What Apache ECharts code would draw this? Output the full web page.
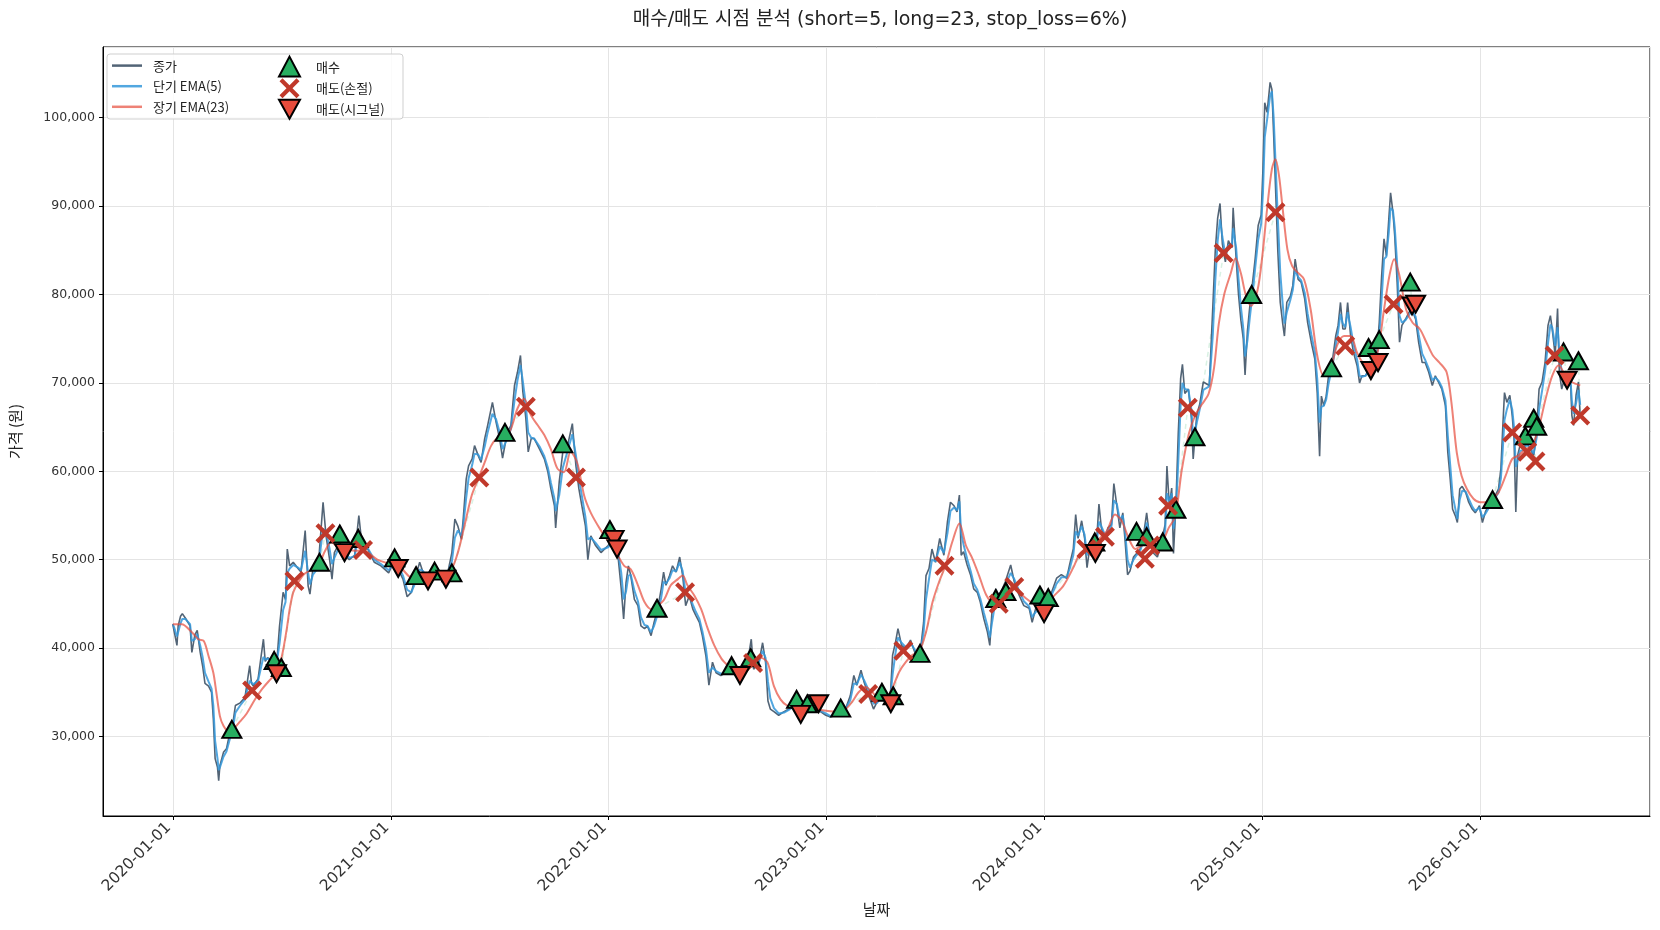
<!DOCTYPE html>
<html>
<head>
<meta charset="utf-8">
<script src="https://cdn.jsdelivr.net/npm/echarts@6/dist/echarts.min.js"></script>
<style>
  html, body { margin: 0; padding: 0; background: #fff; }
  #chart { width: 1660px; height: 930px; }
</style>
</head>
<body>
<div id="chart"></div>
<script>
// 종가 / 단기 EMA(5) - 같은 날짜 기준
const dates = [
  '2020-01-01','2020-01-03','2020-01-08','2020-01-10','2020-01-14','2020-01-17','2020-01-22','2020-01-30',
  '2020-02-02','2020-02-07','2020-02-11','2020-02-16','2020-02-20','2020-02-24',
  '2020-03-01','2020-03-06','2020-03-09','2020-03-12','2020-03-16','2020-03-18','2020-03-20','2020-03-26','2020-03-31',
  '2020-04-06','2020-04-11','2020-04-15','2020-04-23',
  '2020-05-01','2020-05-09','2020-05-12','2020-05-15','2020-05-23',
  '2020-06-01','2020-06-04','2020-06-08','2020-06-17','2020-06-23','2020-06-28',
  '2020-07-04','2020-07-08','2020-07-11','2020-07-15','2020-07-21','2020-07-29',
  '2020-08-03','2020-08-10','2020-08-15','2020-08-18','2020-08-23',
  '2020-09-01','2020-09-09','2020-09-14','2020-09-20','2020-09-24','2020-09-28',
  '2020-10-07','2020-10-15','2020-10-23',
  '2020-11-01','2020-11-08','2020-11-14','2020-11-23',
  '2020-12-04','2020-12-15','2020-12-28',
  '2021-01-07','2021-01-16','2021-01-21','2021-01-28',
  '2021-02-04','2021-02-10','2021-02-18','2021-02-24',
  '2021-03-04','2021-03-12','2021-03-21','2021-03-29',
  '2021-04-06','2021-04-13','2021-04-18','2021-04-23','2021-04-29',
  '2021-05-02','2021-05-07','2021-05-11','2021-05-17','2021-05-21','2021-05-27',
  '2021-06-01','2021-06-07','2021-06-12','2021-06-20','2021-06-26',
  '2021-07-02','2021-07-07','2021-07-15','2021-07-21','2021-07-27',
  '2021-08-01','2021-08-06','2021-08-10','2021-08-15','2021-08-19','2021-08-24','2021-08-29',
  '2021-09-07','2021-09-15','2021-09-21','2021-09-26',
  '2021-10-02','2021-10-04','2021-10-10','2021-10-16','2021-10-24',
  '2021-11-01','2021-11-07','2021-11-12','2021-11-18','2021-11-23','2021-11-27',
  '2021-12-02','2021-12-10','2021-12-19','2021-12-31',
  '2022-01-08','2022-01-16','2022-01-22','2022-01-26','2022-01-30',
  '2022-02-03','2022-02-07','2022-02-13','2022-02-19','2022-02-24',
  '2022-03-02','2022-03-07','2022-03-13','2022-03-18','2022-03-24','2022-03-30',
  '2022-04-03','2022-04-07','2022-04-13','2022-04-18','2022-04-24','2022-04-30',
  '2022-05-05','2022-05-10','2022-05-16','2022-05-22','2022-05-27',
  '2022-06-02','2022-06-07','2022-06-13','2022-06-18','2022-06-24','2022-06-30',
  '2022-07-08','2022-07-16','2022-07-25',
  '2022-08-02','2022-08-10','2022-08-21','2022-08-28',
  '2022-09-01','2022-09-10','2022-09-16','2022-09-21','2022-09-25','2022-09-29',
  '2022-10-05','2022-10-13','2022-10-22','2022-10-30',
  '2022-11-07','2022-11-18','2022-11-30',
  '2022-12-11','2022-12-22','2022-12-31',
  '2023-01-08','2023-01-16','2023-01-25',
  '2023-02-02','2023-02-10','2023-02-16','2023-02-21','2023-02-28',
  '2023-03-05','2023-03-13','2023-03-21','2023-03-27',
  '2023-04-01','2023-04-10','2023-04-18','2023-04-22','2023-04-27',
  '2023-05-01','2023-05-07','2023-05-14','2023-05-22','2023-05-31',
  '2023-06-08','2023-06-13','2023-06-17','2023-06-22','2023-06-27',
  '2023-07-03','2023-07-10','2023-07-17','2023-07-23','2023-07-28',
  '2023-08-03','2023-08-08','2023-08-12','2023-08-15','2023-08-19','2023-08-25','2023-08-31',
  '2023-09-05','2023-09-11','2023-09-16','2023-09-22','2023-09-28',
  '2023-10-02','2023-10-06','2023-10-12','2023-10-17','2023-10-23','2023-10-28',
  '2023-11-06','2023-11-12','2023-11-20','2023-11-28',
  '2023-12-07','2023-12-12','2023-12-18','2023-12-31',
  '2024-01-13','2024-01-22','2024-01-30',
  '2024-02-08','2024-02-13','2024-02-19','2024-02-23','2024-02-27',
  '2024-03-04','2024-03-09','2024-03-13','2024-03-18','2024-03-23','2024-03-29',
  '2024-04-02','2024-04-06','2024-04-12','2024-04-17','2024-04-23','2024-04-27',
  '2024-05-02','2024-05-07','2024-05-12','2024-05-16','2024-05-20','2024-05-24','2024-05-30',
  '2024-06-04','2024-06-10','2024-06-15','2024-06-21','2024-06-27',
  '2024-07-03','2024-07-09','2024-07-16','2024-07-22','2024-07-25','2024-07-29',
  '2024-08-02','2024-08-05','2024-08-09','2024-08-13','2024-08-17','2024-08-20','2024-08-24','2024-08-30',
  '2024-09-04','2024-09-07','2024-09-13','2024-09-18','2024-09-24',
  '2024-10-04','2024-10-10','2024-10-14','2024-10-18','2024-10-22','2024-10-26','2024-10-31',
  '2024-11-05','2024-11-11','2024-11-13','2024-11-18','2024-11-22','2024-11-26','2024-11-30',
  '2024-12-03','2024-12-07','2024-12-11','2024-12-16','2024-12-20','2024-12-25','2024-12-30',
  '2025-01-02','2025-01-05','2025-01-09','2025-01-14','2025-01-17','2025-01-20','2025-01-24','2025-01-27','2025-01-31',
  '2025-02-04','2025-02-07','2025-02-11','2025-02-17','2025-02-21','2025-02-25',
  '2025-03-02','2025-03-07','2025-03-13','2025-03-18','2025-03-24','2025-03-30',
  '2025-04-03','2025-04-07','2025-04-10','2025-04-14','2025-04-18','2025-04-22','2025-04-28',
  '2025-05-04','2025-05-08','2025-05-12','2025-05-16','2025-05-20','2025-05-24','2025-05-29',
  '2025-06-03','2025-06-09','2025-06-13','2025-06-17','2025-06-23','2025-06-28',
  '2025-07-04','2025-07-11','2025-07-16','2025-07-20','2025-07-24','2025-07-28',
  '2025-08-01','2025-08-04','2025-08-08','2025-08-11','2025-08-15','2025-08-19','2025-08-23','2025-08-29',
  '2025-09-04','2025-09-09','2025-09-15','2025-09-20','2025-09-26',
  '2025-10-01','2025-10-07','2025-10-13','2025-10-18','2025-10-24','2025-10-29',
  '2025-11-04','2025-11-08','2025-11-12','2025-11-16','2025-11-21','2025-11-24','2025-11-28',
  '2025-12-02','2025-12-08','2025-12-13','2025-12-19','2025-12-24','2025-12-31',
  '2026-01-05','2026-01-10','2026-01-18','2026-01-24',
  '2026-02-01','2026-02-05','2026-02-08','2026-02-11','2026-02-15','2026-02-20','2026-02-24','2026-02-27',
  '2026-03-02','2026-03-05','2026-03-09','2026-03-15','2026-03-20','2026-03-26',
  '2026-04-01','2026-04-06','2026-04-10','2026-04-15','2026-04-20','2026-04-25','2026-04-29',
  '2026-05-02','2026-05-07','2026-05-11','2026-05-14','2026-05-18','2026-05-21','2026-05-27',
  '2026-06-02','2026-06-04','2026-06-07','2026-06-11','2026-06-15','2026-06-18'
]
const closePrice = [
  42700,42000,40300,42500,43600,43900,43400,42500,
  39500,41500,42000,39500,38000,36000,
  35700,35000,32000,27500,26500,25000,26700,28200,28600,
  30500,31600,33500,33800,
  34400,38000,36000,35700,36500,
  41000,38500,38900,38500,38000,42500,
  46300,45500,51200,49300,49700,49000,
  48600,53300,47000,46100,49000,
  49300,56500,52700,50000,47800,50800,
  52000,50500,50000,
  50500,55000,51200,51200,
  49700,49300,48500,
  50000,48500,47800,45800,
  46300,47800,49700,48500,
  47000,48500,48500,48000,
  48500,50800,54600,53800,52300,
  54600,59100,60600,61400,62900,61800,
  61000,63700,65200,67800,65600,
  63700,61500,64400,65200,69700,
  71200,73100,69000,66000,62200,63700,63700,
  62500,61400,59900,58000,
  56100,53600,58800,62200,62900,
  65400,60600,58000,55700,53800,50000,
  52700,51600,50800,51600,
  52300,50800,46700,43300,47400,
  49300,48200,45500,44800,42500,
  42200,42500,41400,42900,44400,46700,
  48600,47100,48200,49300,48600,50300,
  48200,44800,45900,44400,43700,
  42900,41400,39100,35800,38400,37200,
  36900,37200,37600,
  37200,37600,38000,41000,
  37600,38400,40600,38400,34000,33100,
  32800,32400,32800,33100,
  33500,33100,33500,
  33100,32800,32400,
  32200,32400,33100,
  33100,34600,36900,35800,37500,
  36200,34600,33100,33900,
  34600,33900,34300,39200,40700,
  42200,40300,39900,40900,39200,
  39900,42900,48200,49000,51200,
  49700,52400,50500,54300,56500,
  56100,55400,57300,50500,50900,49400,48200,
  46700,46300,45200,43300,41800,
  40300,44500,46700,46000,46700,47500,
  49400,47500,46000,44800,
  44500,42900,44500,44500,
  46200,47900,48300,
  47900,49500,51200,55100,52400,
  54400,52400,49100,51600,51200,52000,
  56300,53600,52400,53600,54000,58600,
  56100,53600,55300,52000,48300,48700,50300,
  50700,51200,52400,55300,52000,
  50700,50300,52000,54000,60600,56100,
  58100,50700,56100,64300,70500,72100,68800,69300,
  66000,61400,66400,67600,70100,
  69700,78700,84900,88600,90300,85700,83700,
  86100,85300,89800,84100,80000,77100,75000,
  70900,75900,78700,81600,84100,87800,89000,
  94200,101700,100600,104000,103200,98000,90400,84800,79100,
  76800,75300,79100,79800,81000,84000,
  81700,81400,79500,76800,74600,72700,
  68900,61700,68500,67400,68500,70800,72300,
  75300,76500,79100,76100,76100,79100,75300,
  73400,71900,70000,70800,70800,71500,
  72300,72700,76800,82100,86300,84400,
  88500,91500,89300,86600,81400,74600,76500,77200,
  78000,78300,77200,74600,72300,
  72300,71200,69700,70800,70000,69300,
  67400,62100,59100,55700,54900,54200,58000,
  58300,57600,56500,55700,55300,56100,
  54200,55400,56500,56900,
  58000,60300,64800,68900,67800,68600,66300,63700,
  55400,61800,62900,62500,63300,62500,
  61800,64800,69300,70100,72300,76500,77600,
  76100,73100,78400,71200,69300,70100,70800,
  69700,66300,65200,68600,70100,66100
]
const emaShort = [
  42700,42400,41300,41800,42800,43300,43300,42700,
  40800,41000,41600,40300,39000,37200,
  36200,35400,33500,29500,27500,26200,26500,27700,28300,
  29800,31000,32700,33500,
  34200,36300,36100,35900,36300,
  39000,38700,38800,38600,38200,40500,
  44300,45200,48500,49000,49400,49100,
  48800,51000,48500,47200,48300,
  49100,53500,53200,51200,49500,50200,
  51600,50900,50200,
  50400,52800,51800,51300,
  50000,49500,48800,
  49800,48900,48200,46600,
  46300,47300,48900,48700,
  47500,48200,48400,48100,
  48400,49800,52500,53300,52700,
  53800,57000,59200,60700,62000,61900,
  61300,62800,64400,66500,65900,
  64400,62500,63700,64800,68000,
  70300,72000,70200,67500,64400,63800,63700,
  62800,61700,60400,58700,
  56900,55500,57300,60400,62300,
  64200,61800,59200,56800,54800,52300,
  52500,51900,51100,51400,
  52000,51200,48500,45500,46400,
  48200,48300,46500,45300,43500,
  42600,42500,41800,42500,43800,45700,
  47500,47300,47900,48800,48700,49700,
  48700,46200,45900,44900,44100,
  43300,41900,39900,37200,37800,37400,
  37100,37200,37500,
  37300,37500,37900,39600,
  38300,38400,39700,38900,36200,34300,
  33200,32600,32700,33000,
  33400,33200,33400,
  33200,32900,32600,
  32300,32400,32900,
  33100,34100,36000,35900,37000,
  36400,35200,33700,33800,
  34300,34000,34200,37000,39500,
  41200,40600,40100,40600,39600,
  39800,41800,45500,47800,50000,
  49800,51500,50800,53000,55500,
  55900,55600,56600,53000,51700,50100,48700,
  47300,46600,45600,44000,42500,
  41200,43000,45500,45900,46400,47100,
  48500,47800,46500,45300,
  44700,43500,44100,44400,
  45900,47300,48000,
  48000,49000,50500,53200,52700,
  53800,52800,50500,51200,51200,51700,
  54300,53800,52800,53300,53800,56700,
  56300,54500,55000,53000,50000,49100,50000,
  50500,51000,52000,54200,52600,
  51200,50600,51600,53300,57500,56600,
  57500,53500,55300,61000,67500,70000,69300,69200,
  67000,63800,65500,67000,69200,
  69600,75500,81500,86000,88500,86500,84500,
  85600,85400,87500,85300,81800,78600,76200,
  73000,74800,77400,80300,83000,86200,88000,
  91500,97800,99800,102500,103000,100000,93500,88500,82500,
  79000,76700,78000,79400,80500,82800,
  82000,81600,80200,77800,75500,73500,
  70500,65500,67300,67400,68100,69900,71700,
  74200,75800,77800,76700,76300,78000,76300,
  74300,72600,70800,70700,70800,71300,
  72000,72500,75200,79500,84000,84300,
  87000,89800,89500,87600,83500,77600,76800,77100,
  77700,78100,77500,75500,73300,
  72600,71600,70300,70600,70200,69500,
  68000,64000,60700,57300,55600,54600,56800,
  57800,57700,56900,56000,55500,55900,
  54800,55200,56100,56700,
  57600,59200,62300,65800,67000,68100,67000,65000,
  60500,61200,62300,62400,63000,62700,
  62000,63800,67000,69100,71300,74500,76600,
  76300,74200,76300,73500,71200,70600,70700,
  70000,68000,66500,67700,69200,67500
]

// 장기 EMA(23)
const emaLongDates = [
  '2020-01-01','2020-01-16','2020-02-02','2020-02-13','2020-02-22','2020-03-01','2020-03-09','2020-03-14','2020-03-20','2020-03-26',
  '2020-04-03','2020-04-11','2020-04-23','2020-05-04','2020-05-18','2020-05-29','2020-06-12','2020-06-23','2020-07-02','2020-07-10',
  '2020-07-15','2020-07-21','2020-07-29','2020-08-09','2020-08-23','2020-09-03','2020-09-11','2020-09-23','2020-10-04','2020-10-18',
  '2020-11-01','2020-11-12','2020-11-23','2020-12-09','2020-12-26',
  '2021-01-10','2021-01-20','2021-02-04','2021-02-21','2021-03-10','2021-03-27','2021-04-12','2021-04-23','2021-05-04','2021-05-16',
  '2021-05-27','2021-06-07','2021-06-18','2021-06-29','2021-07-10','2021-07-21','2021-08-01','2021-08-12','2021-08-24','2021-09-04',
  '2021-09-15','2021-09-26','2021-10-07','2021-10-18','2021-10-29','2021-11-09','2021-11-21','2021-12-02','2021-12-18',
  '2022-01-01','2022-01-16','2022-01-27','2022-02-07','2022-02-19','2022-03-02','2022-03-13','2022-03-24','2022-04-04','2022-04-15',
  '2022-04-27','2022-05-05','2022-05-13','2022-05-25','2022-06-05','2022-06-16','2022-06-27','2022-07-09','2022-07-20','2022-07-31',
  '2022-08-11','2022-08-22','2022-09-01','2022-09-13','2022-09-24','2022-10-05','2022-10-16','2022-10-27','2022-11-07','2022-11-24','2022-12-11',
  '2023-01-01','2023-01-16','2023-02-02','2023-02-13','2023-02-24','2023-03-08','2023-03-19','2023-03-30','2023-04-10','2023-04-21',
  '2023-05-03','2023-05-14','2023-05-25','2023-06-05','2023-06-17','2023-06-28','2023-07-09','2023-07-20','2023-07-31','2023-08-12',
  '2023-08-23','2023-09-03','2023-09-14','2023-09-26','2023-10-07','2023-10-18','2023-10-29','2023-11-10','2023-11-21','2023-12-02','2023-12-19',
  '2024-01-01','2024-01-16','2024-02-02','2024-02-19','2024-03-01','2024-03-12','2024-03-23','2024-04-03','2024-04-15','2024-04-29',
  '2024-05-10','2024-05-22','2024-06-02','2024-06-13','2024-06-24','2024-07-06','2024-07-17','2024-07-28','2024-08-08','2024-08-19',
  '2024-08-31','2024-09-11','2024-09-22','2024-10-03','2024-10-12','2024-10-20','2024-10-29','2024-11-09','2024-11-17','2024-11-26',
  '2024-12-04','2024-12-13','2024-12-24',
  '2025-01-01','2025-01-09','2025-01-17','2025-01-23','2025-01-29','2025-02-03','2025-02-12','2025-02-20','2025-03-01','2025-03-12',
  '2025-03-23','2025-04-03','2025-04-14','2025-04-25','2025-05-06','2025-05-18','2025-05-29','2025-06-09','2025-06-20','2025-07-02',
  '2025-07-13','2025-07-24','2025-08-02','2025-08-10','2025-08-19','2025-08-30','2025-09-10','2025-09-22','2025-10-03','2025-10-14',
  '2025-10-25','2025-11-06','2025-11-14','2025-11-23','2025-12-01','2025-12-10','2025-12-21',
  '2026-01-01','2026-01-10','2026-01-21','2026-02-01','2026-02-13','2026-02-24','2026-03-07','2026-03-18','2026-03-29','2026-04-09',
  '2026-04-21','2026-05-02','2026-05-13','2026-05-24','2026-06-04','2026-06-18'
]
const emaLong = [
  42700,42700,41800,41000,40800,39100,37200,35000,32300,31200,
  30600,30800,31700,32600,34200,35300,36400,37200,39100,42100,
  44400,46300,47400,48400,48900,49500,50800,52000,51400,51200,
  51000,51000,50800,50000,49600,
  49300,48900,48000,48100,48000,48100,48900,50800,53800,57200,
  59100,61000,62900,63700,63700,64800,67100,68200,66300,65200,
  64100,62500,60300,59900,62200,61000,57200,55300,53400,
  52000,50500,49300,48900,47100,45200,44400,44800,45500,47100,
  47800,48200,47100,45900,44400,42200,40300,38800,38000,37400,
  37400,37800,38400,38900,38400,35700,34200,33500,33300,33300,33100,
  32900,32800,33100,33900,35000,35600,35000,34300,34300,35400,
  37300,38400,39200,39500,41800,45200,47500,49400,52000,54100,
  51600,50100,48200,46000,45200,45200,46000,47100,46300,45600,44800,
  44600,45800,47000,49100,50700,51200,51600,52400,53200,55100,
  54400,52400,51200,51600,52000,51600,52000,53600,54900,60200,
  64300,66400,67600,68800,71700,76700,80000,82400,84100,82400,
  80000,78700,80500,
  84400,89700,94200,95300,93400,90400,85100,83200,82500,81700,
  78300,73100,70800,71500,74200,75300,75300,73400,72300,72300,
  73400,78300,82100,84000,82100,78300,76800,76100,74600,73100,
  72300,71200,67800,62100,59500,58000,56900,
  56500,56500,56900,57600,59500,61400,61800,62500,62900,64800,
  68200,70800,72000,70800,70100,69700
]

// 매매 시점
const buyDates = [
  '2020-04-09','2020-06-19','2020-07-01','2020-09-03','2020-10-07','2020-11-07','2021-01-07','2021-02-12','2021-03-15','2021-04-13',
  '2021-07-11','2021-10-16','2022-01-03','2022-03-23','2022-07-26','2022-08-27','2022-11-12','2022-11-30','2023-01-25','2023-04-04',
  '2023-04-23','2023-06-07','2023-10-12','2023-10-29','2023-12-25','2024-01-08','2024-03-26','2024-06-04','2024-06-21','2024-07-18',
  '2024-08-09','2024-09-10','2024-12-14','2025-04-27','2025-06-28','2025-07-16','2025-09-06','2026-01-22','2026-03-18','2026-04-01',
  '2026-04-06','2026-05-21','2026-06-15'
]
const buyPrices = [
  30800,38600,37800,49700,52900,52400,50200,48200,48700,48500,
  64400,63100,53400,44500,38000,38900,34200,33700,33200,35000,
  34600,39400,45600,46400,46000,45700,52000,53200,52600,52000,
  55700,63900,80000,71700,74000,74900,81400,56800,64000,66000,
  65100,73500,72500
]
const stopDates = [
  '2020-05-13','2020-07-23','2020-09-13','2020-11-15','2021-05-29','2021-08-15','2021-11-07','2022-05-09','2022-08-31','2023-03-12',
  '2023-05-10','2023-07-18','2023-10-17','2023-11-12','2024-03-12','2024-04-12','2024-06-18','2024-06-27','2024-07-27','2024-08-29',
  '2024-10-28','2025-01-23','2025-05-20','2025-08-09','2026-02-24','2026-03-21','2026-04-04','2026-05-06','2026-06-18'
]
const stopPrices = [
  35200,47600,53000,51100,59300,67300,59300,46300,38300,34800,
  39700,49300,45000,46900,51200,52600,50100,51600,56100,67200,
  84700,89300,74200,78900,64400,62200,61100,73100,66300
]
const signalDates = [
  '2020-06-23','2020-10-15','2021-01-13','2021-03-04','2021-04-03','2022-01-10','2022-01-15','2022-08-09','2022-11-19','2022-12-19',
  '2023-04-19','2024-01-01','2024-03-27','2025-07-02','2025-07-14','2025-09-09','2025-09-15','2026-05-27'
]
const signalPrices = [
  37100,50800,49000,47600,47800,52300,51200,36900,32500,33700,
  33700,43900,50700,71400,72300,78700,78900,70300
]

const CJK = '"Noto Sans CJK KR", sans-serif'
const LATIN = '"DejaVu Sans", "Noto Sans CJK KR", sans-serif'
const zip = (xs, ys) => xs.map((d, i) => [d, ys[i]])

const crossPath = 'path://M3,0 L10,7 L17,0 L20,3 L13,10 L20,17 L17,20 L10,13 L3,20 L0,17 L7,10 L0,3 Z'
const downTri = 'path://M0,0 L20,0 L10,18 Z'

// 매수 -> 다음 매도 연결선 (보유 구간)
const sells = zip(stopDates, stopPrices).concat(zip(signalDates, signalPrices))
  .map(p => [echarts.time.parse(p[0]).getTime(), p[1]])
  .sort((a, b) => a[0] - b[0])
const tradeLines = []
zip(buyDates, buyPrices).forEach(p => {
  const t = echarts.time.parse(p[0]).getTime()
  const s = sells.find(q => q[0] > t)
  if (s) tradeLines.push({ coords: [[t, p[1]], s] })
})

const myChart = echarts.init(document.getElementById('chart'))

const option = {
  animation: false,
  backgroundColor: '#fff',
  textStyle: { fontFamily: LATIN },
  title: {
    text: '매수/매도 시점 분석 (short=5, long=23, stop_loss=6%)',
    left: 875,
    top: 6,
    textAlign: 'center',
    textStyle: { fontFamily: LATIN, fontSize: 19, fontWeight: 'normal', color: '#222' }
  },
  grid: {
    left: 101, right: 10, top: 47, bottom: 114,
    show: true, borderColor: '#000', borderWidth: 1, backgroundColor: 'transparent'
  },
  graphic: [{
    type: 'rect', z: 3,
    shape: { x: 107, y: 54, width: 296, height: 65, r: 3 },
    style: { fill: 'rgba(255,255,255,0.85)', stroke: '#cfcfcf', lineWidth: 1 }
  }],
  legend: [
    {
      data: [
        { name: '종가', icon: 'rect' },
        { name: '단기 EMA(5)', icon: 'rect' },
        { name: '장기 EMA(23)', icon: 'rect' }
      ],
      orient: 'vertical', left: 112, top: 58.6, padding: 0,
      itemWidth: 30, itemHeight: 2.5, itemGap: 6.6,
      textStyle: { fontFamily: CJK, fontSize: 13, color: '#222', lineHeight: 14, padding: [0, 0, 0, 6] }
    },
    {
      data: [
        { name: '매수', icon: 'triangle' },
        { name: '매도(손절)', icon: crossPath },
        { name: '매도(시그널)', icon: downTri }
      ],
      orient: 'vertical', left: 278, top: 55.6, padding: 0,
      itemWidth: 21, itemHeight: 20, itemGap: 0.6,
      textStyle: { fontFamily: CJK, fontSize: 13, color: '#222', lineHeight: 20, padding: [0, 0, 0, 11] }
    }
  ],
  xAxis: {
    type: 'time',
    min: '2019-09-06',
    max: '2026-10-13',
    splitNumber: 7,
    name: '날짜',
    nameLocation: 'middle',
    nameGap: 86,
    nameTextStyle: { fontFamily: CJK, fontSize: 15, color: '#222' },
    axisLine: { lineStyle: { color: '#000', width: 1 } },
    axisTick: { show: true, length: 4, lineStyle: { color: '#000' } },
    axisLabel: {
      rotate: 45, fontSize: 15.5, color: '#333', fontFamily: LATIN, margin: 5,
      padding: [0, 6, 0, 0],
      formatter: '{yyyy}-{MM}-{dd}'
    },
    splitLine: { show: true, lineStyle: { color: '#e4e4e4', width: 1 } }
  },
  yAxis: {
    type: 'value',
    min: 21000,
    max: 108000,
    splitNumber: 9,
    minInterval: 10000,
    maxInterval: 10000,
    name: '가격 (원)',
    nameLocation: 'middle',
    nameGap: 80,
    nameTextStyle: { fontFamily: CJK, fontSize: 15, color: '#222' },
    axisLine: { show: true, lineStyle: { color: '#000', width: 1 } },
    axisTick: { show: true, length: 4, lineStyle: { color: '#000' } },
    axisLabel: {
      fontSize: 12.5, color: '#333', fontFamily: LATIN, margin: 8,
      showMinLabel: false, showMaxLabel: false,
      formatter: v => v.toLocaleString('en-US')
    },
    splitLine: { show: true, lineStyle: { color: '#e4e4e4', width: 1 } }
  },
  series: [
    {
      name: '보유구간', type: 'lines', coordinateSystem: 'cartesian2d',
      data: tradeLines, silent: true, z: 1,
      lineStyle: { color: 'rgba(39,174,96,0.35)', width: 1.5, type: [5, 4] }
    },
    {
      name: '종가', type: 'line', data: zip(dates, closePrice),
      symbol: 'none', lineStyle: { color: '#34495e', width: 1.6, opacity: 0.85 },
      itemStyle: { color: '#526476' }, z: 2
    },
    {
      name: '단기 EMA(5)', type: 'line', data: zip(dates, emaShort),
      symbol: 'none', lineStyle: { color: '#3498db', width: 2, opacity: 0.85 },
      itemStyle: { color: '#52a7e0' }, z: 2
    },
    {
      name: '장기 EMA(23)', type: 'line', data: zip(emaLongDates, emaLong),
      symbol: 'none', smooth: 0.3, lineStyle: { color: '#e74c3c', width: 2, opacity: 0.7 },
      itemStyle: { color: '#ee8276' }, z: 2
    },
    {
      name: '매수', type: 'scatter', data: zip(buyDates, buyPrices),
      symbol: 'triangle', symbolSize: [19, 17],
      itemStyle: { color: '#27ae60', borderColor: '#000', borderWidth: 2, opacity: 1 }, z: 5
    },
    {
      name: '매도(손절)', type: 'scatter', data: zip(stopDates, stopPrices),
      symbol: crossPath, symbolSize: 20,
      itemStyle: { color: '#c0392b', borderWidth: 0, opacity: 1 }, z: 5
    },
    {
      name: '매도(시그널)', type: 'scatter', data: zip(signalDates, signalPrices),
      symbol: downTri, symbolSize: [19, 17],
      itemStyle: { color: '#e74c3c', borderColor: '#000', borderWidth: 2, opacity: 1 }, z: 5
    }
  ]
}

myChart.setOption(option)
</script>
</body>
</html>
